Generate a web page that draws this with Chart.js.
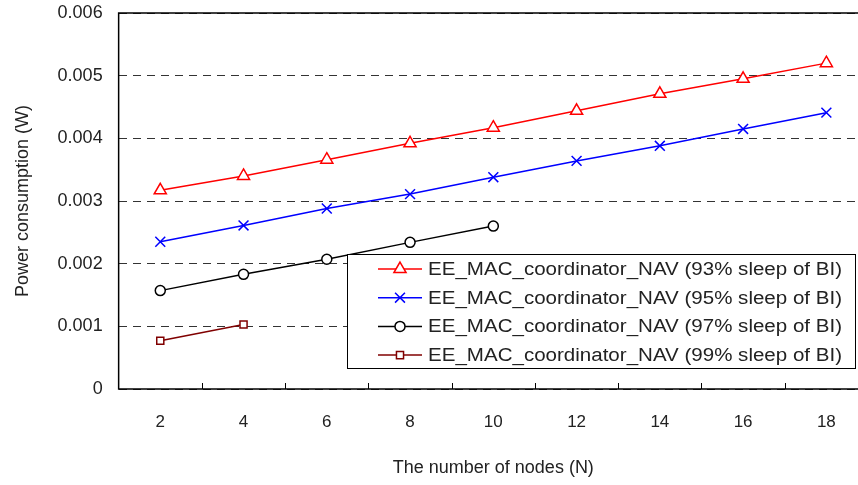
<!DOCTYPE html>
<html>
<head>
<meta charset="utf-8">
<script src="https://cdn.jsdelivr.net/npm/chart.js@4/dist/chart.umd.min.js"></script>
<style>
  html, body { margin: 0; padding: 0; background: #fff; overflow: hidden; }
  #wrap { width: 880px; height: 485px; }
</style>
</head>
<body>
<div id="wrap"><canvas id="chartCanvas"></canvas></div>
<script>
const nodes = ["2", "4", "6", "8", "10", "12", "14", "16", "18"];
const sleep93 = [0.00317, 0.00340, 0.00366, 0.00392, 0.00417, 0.00444, 0.00471, 0.00495, 0.00520];
const sleep95 = [0.00235, 0.00261, 0.00288, 0.00311, 0.00338, 0.00364, 0.00388, 0.00415, 0.00441];
const sleep97 = [0.00157, 0.00183, 0.00207, 0.00234, 0.00260];
const sleep99 = [0.00077, 0.00103];
const yTickLabels = ["0", "0.001", "0.002", "0.003", "0.004", "0.005", "0.006"];
const seriesNames = [
  "EE_MAC_coordinator_NAV (93% sleep of BI)",
  "EE_MAC_coordinator_NAV (95% sleep of BI)",
  "EE_MAC_coordinator_NAV (97% sleep of BI)",
  "EE_MAC_coordinator_NAV (99% sleep of BI)"
];

const FONT = "'Liberation Sans', 'DejaVu Sans', sans-serif";

// box around the plot, inward x ticks, and the floating legend
const framePlugin = {
  id: "frame",
  afterDraw(chart) {
    const { ctx, chartArea: a, scales } = chart;
    ctx.save();
    ctx.strokeStyle = "#000";
    ctx.lineWidth = 1.5;
    ctx.strokeRect(a.left, a.top, a.right - a.left, a.bottom - a.top);

    // tick marks between categories, pointing up
    ctx.lineWidth = 1;
    const xs = scales.x;
    for (let i = 0; i < nodes.length - 1; i++) {
      const px = Math.round((xs.getPixelForValue(i) + xs.getPixelForValue(i + 1)) / 2) + 0.5;
      ctx.beginPath();
      ctx.moveTo(px, a.bottom);
      ctx.lineTo(px, a.bottom - 6);
      ctx.stroke();
    }

    // legend
    const w = 508, h = 114;
    const bx = Math.round(a.right - 13 - w), by = Math.round(a.bottom - 21 - h);
    ctx.fillStyle = "#fff";
    ctx.fillRect(bx, by, w, h);
    ctx.strokeStyle = "#000";
    ctx.lineWidth = 1;
    ctx.strokeRect(bx + 0.5, by + 0.5, w, h);
    chart.data.datasets.forEach((ds, i) => {
      const cy = by + 15 + i * 28.7;
      ctx.strokeStyle = ds.borderColor;
      ctx.lineWidth = 1.5;
      ctx.beginPath();
      ctx.moveTo(bx + 31, cy);
      ctx.lineTo(bx + 75, cy);
      ctx.stroke();
      ctx.fillStyle = "#fff";
      Chart.helpers.drawPoint(ctx, {
        pointStyle: ds.pointStyle,
        radius: ds.pointRadius,
        borderWidth: ds.pointBorderWidth
      }, bx + 53, cy);
      ctx.fillStyle = "#222";
      ctx.font = "18px " + FONT;
      ctx.textBaseline = "middle";
      const tw = ctx.measureText(ds.label).width;
      ctx.save();
      ctx.translate(bx + 81, cy + 1);
      ctx.scale(414 / tw, 1);
      ctx.fillText(ds.label, 0, 0);
      ctx.restore();
    });
    ctx.restore();
  }
};

function series(label, data, color, style, radius) {
  return {
    label,
    data,
    borderColor: color,
    backgroundColor: "#fff",
    pointBackgroundColor: "#fff",
    pointBorderColor: color,
    borderWidth: 1.5,
    pointBorderWidth: 1.5,
    pointStyle: style,
    pointRadius: radius,
    pointHoverRadius: radius,
    tension: 0,
    fill: false
  };
}

const ctx = document.getElementById("chartCanvas").getContext("2d");
new Chart(ctx, {
  type: "line",
  data: {
    labels: nodes,
    datasets: [
      series(seriesNames[0], sleep93, "#ff0000", "triangle", 7),
      series(seriesNames[1], sleep95, "#0000ff", "crossRot", 7),
      series(seriesNames[2], sleep97, "#000000", "circle", 5),
      series(seriesNames[3], sleep99, "#800000", "rect", 5)
    ]
  },
  options: {
    responsive: true,
    maintainAspectRatio: false,
    animation: false,
    layout: { padding: { top: 13, left: 12, right: 12, bottom: 0 } },
    plugins: {
      legend: { display: false },
      tooltip: { enabled: false }
    },
    scales: {
      x: {
        offset: true,
        grid: { display: false },
        border: { display: false },
        ticks: {
          color: "#222",
          padding: 15,
          maxRotation: 0,
          font: { family: FONT, size: 17 }
        },
        title: {
          display: true,
          text: "The number of nodes (N)",
          color: "#222",
          padding: { top: 10, bottom: 6 },
          font: { family: FONT, size: 18 }
        }
      },
      y: {
        min: 0,
        max: 0.006,
        afterFit: s => { s.paddingTop = 0; s.paddingBottom = 0; },
        grid: {
          color: "#333",
          lineWidth: 1,
          drawTicks: false
        },
        border: { display: false, dash: [8, 6] },
        ticks: {
          stepSize: 0.001,
          padding: 16,
          color: "#222",
          font: { family: FONT, size: 18 },
          callback: (v, i) => yTickLabels[i]
        },
        title: {
          display: true,
          text: "Power consumption (W)",
          color: "#222",
          padding: { top: 0, bottom: 8 },
          font: { family: FONT, size: 18 }
        }
      }
    }
  },
  plugins: [framePlugin]
});
</script>
</body>
</html>
